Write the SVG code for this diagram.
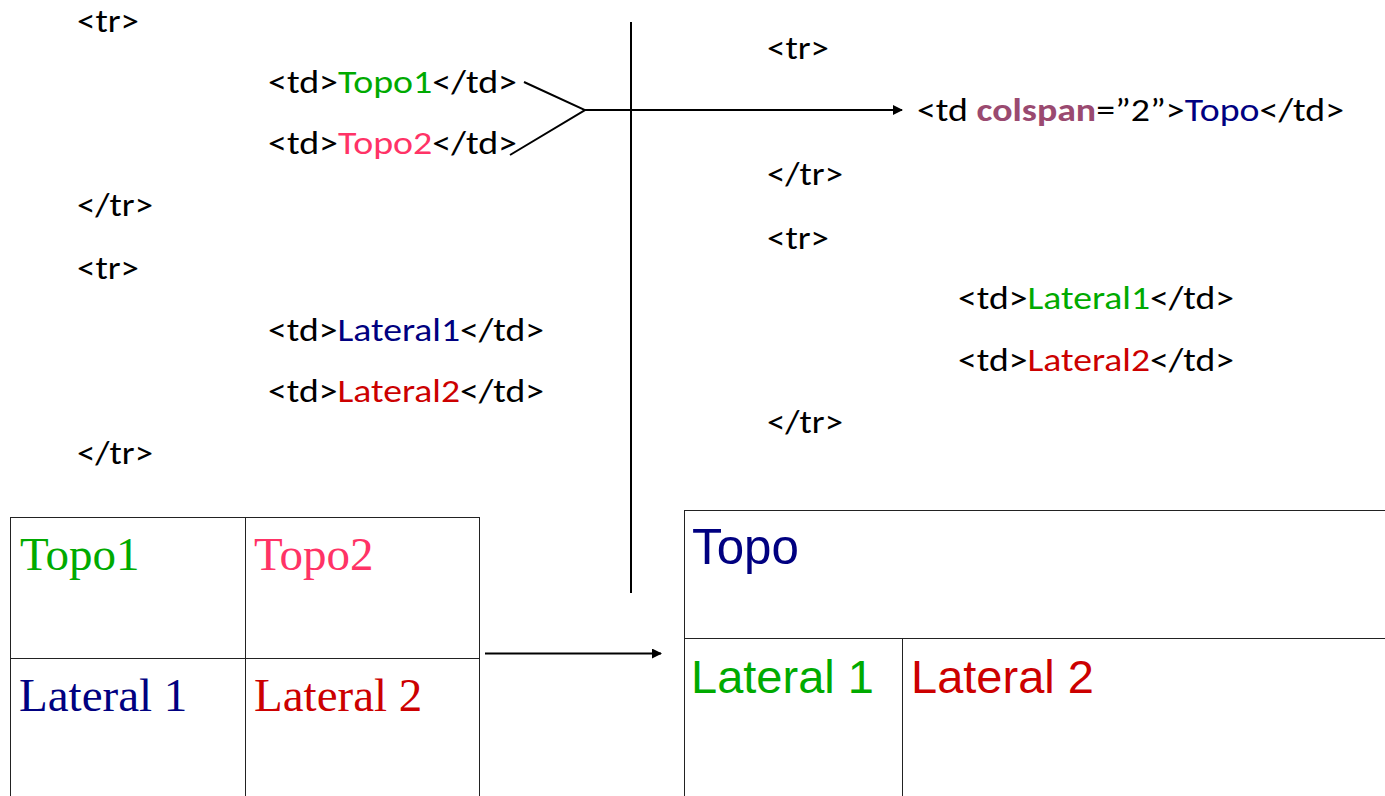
<svg xmlns="http://www.w3.org/2000/svg" width="1385" height="796" viewBox="0 0 1385 796">
<style>
.code{font-family:Carlito,Lato,"Liberation Sans",sans-serif;font-size:33px;fill:#000}
.ser{font-family:"Liberation Serif",serif;font-size:47px}
.san{font-family:"Liberation Sans",Arial,sans-serif;font-size:47px}
.g{fill:#00AA00}.p{fill:#FF3366}.b{fill:#000080}.r{fill:#CC0000}
.cs{fill:#9A4A70;font-weight:bold}
.ln{stroke:#000;stroke-width:2;fill:none}
.tb{stroke:#222;stroke-width:1;fill:none}
</style>
<defs>
<marker id="ah" markerWidth="10" markerHeight="10" refX="9" refY="5" orient="auto" markerUnits="userSpaceOnUse" viewBox="0 0 10 10">
<path d="M0,0 L10,5 L0,10 z" fill="#000"/>
</marker>
</defs>
<rect width="1385" height="796" fill="#fff"/>
<g id="left-code">
<text class="code" x="77" y="32" textLength="62" lengthAdjust="spacingAndGlyphs">&lt;tr&gt;</text>
<text class="code" x="268" y="93" textLength="249" lengthAdjust="spacingAndGlyphs">&lt;td&gt;<tspan class="g">Topo1</tspan>&lt;/td&gt;</text>
<text class="code" x="268" y="154" textLength="249" lengthAdjust="spacingAndGlyphs">&lt;td&gt;<tspan class="p">Topo2</tspan>&lt;/td&gt;</text>
<text class="code" x="77" y="216" textLength="76" lengthAdjust="spacingAndGlyphs">&lt;/tr&gt;</text>
<text class="code" x="77" y="279" textLength="62" lengthAdjust="spacingAndGlyphs">&lt;tr&gt;</text>
<text class="code" x="268" y="341" textLength="276" lengthAdjust="spacingAndGlyphs">&lt;td&gt;<tspan class="b">Lateral1</tspan>&lt;/td&gt;</text>
<text class="code" x="268" y="402" textLength="276" lengthAdjust="spacingAndGlyphs">&lt;td&gt;<tspan class="r">Lateral2</tspan>&lt;/td&gt;</text>
<text class="code" x="77" y="464" textLength="76" lengthAdjust="spacingAndGlyphs">&lt;/tr&gt;</text>
</g>
<g id="right-code">
<text class="code" x="767" y="59" textLength="62" lengthAdjust="spacingAndGlyphs">&lt;tr&gt;</text>
<text class="code" x="917" y="121" textLength="427" lengthAdjust="spacingAndGlyphs">&lt;td <tspan class="cs">colspan</tspan>=”2”&gt;<tspan class="b">Topo</tspan>&lt;/td&gt;</text>
<text class="code" x="767" y="185" textLength="76" lengthAdjust="spacingAndGlyphs">&lt;/tr&gt;</text>
<text class="code" x="767" y="249" textLength="62" lengthAdjust="spacingAndGlyphs">&lt;tr&gt;</text>
<text class="code" x="958" y="309" textLength="276" lengthAdjust="spacingAndGlyphs">&lt;td&gt;<tspan class="g">Lateral1</tspan>&lt;/td&gt;</text>
<text class="code" x="958" y="371" textLength="276" lengthAdjust="spacingAndGlyphs">&lt;td&gt;<tspan class="r">Lateral2</tspan>&lt;/td&gt;</text>
<text class="code" x="767" y="433" textLength="76" lengthAdjust="spacingAndGlyphs">&lt;/tr&gt;</text>
</g>
<g id="left-table">
<rect class="tb" x="10.5" y="517.5" width="469" height="300"/>
<line class="tb" x1="10" y1="658.5" x2="480" y2="658.5"/>
<line class="tb" x1="245.5" y1="517" x2="245.5" y2="796"/>
<text class="ser g" x="20" y="570">Topo1</text>
<text class="ser p" x="254" y="570">Topo2</text>
<text class="ser b" x="19" y="711">Lateral 1</text>
<text class="ser r" x="254" y="711">Lateral 2</text>
</g>
<g id="right-table">
<rect class="tb" x="684.5" y="510.5" width="720" height="300"/>
<line class="tb" x1="684" y1="638.5" x2="1385" y2="638.5"/>
<line class="tb" x1="902.5" y1="638" x2="902.5" y2="796"/>
<text class="san b" x="692" y="564" style="font-size:50px" textLength="107" lengthAdjust="spacingAndGlyphs">Topo</text>
<text class="san g" x="691" y="693">Lateral 1</text>
<text class="san r" x="911" y="693">Lateral 2</text>
</g>
<g id="connectors">
<line class="ln" x1="631" y1="22" x2="631" y2="593"/>
<polyline class="ln" points="524,82 585,110 510,155"/>
<line class="ln" x1="585" y1="110" x2="902" y2="110" marker-end="url(#ah)"/>
<line class="ln" x1="485" y1="653.5" x2="661" y2="653.5" marker-end="url(#ah)"/>
</g>
</svg>
